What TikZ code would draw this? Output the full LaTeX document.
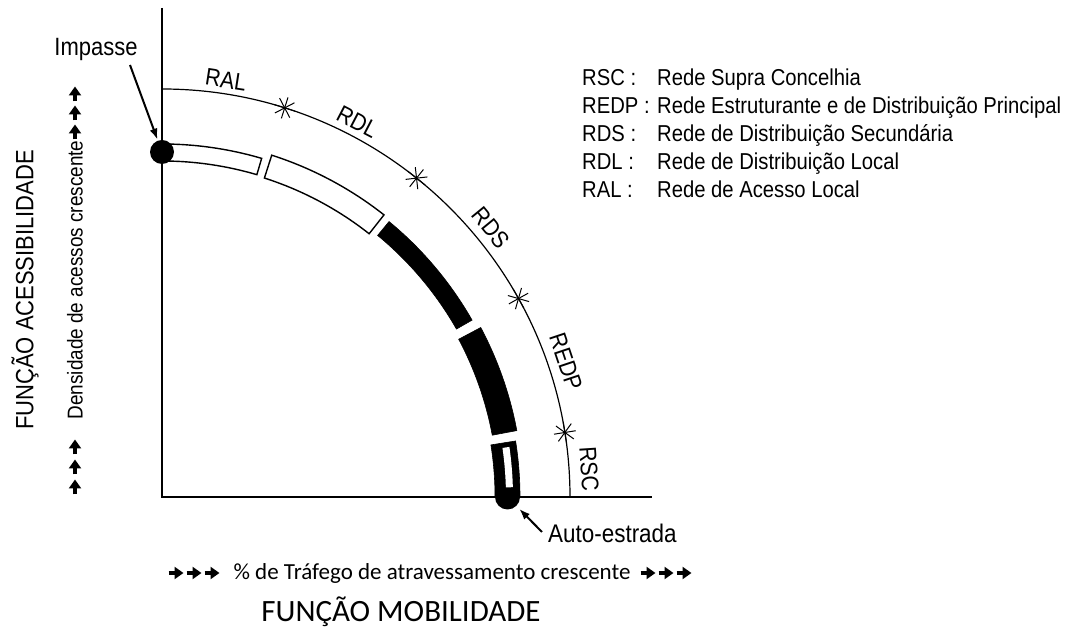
\documentclass[tikz,border=0pt]{standalone}
\usepackage{fontspec}
\setmainfont{Liberation Sans}[FakeStretch=0.88]
\newfontfamily\calib{Carlito}
\usetikzlibrary{arrows.meta,calc}
\newcommand\annsec[5]{\draw[#1] (#2:#5) arc[start angle=#2,end angle=#3,radius=#5] -- (#3:#4) arc[start angle=#3,end angle=#2,radius=#4] -- cycle;}
\newcommand\arcstar[1]{\foreach \k in {0,45,90,135}{\draw[starline] ($(#1:408)+(\k+#1:11)$) -- ($(#1:408)+(\k+#1+180:11)$);}}
\begin{document}
\begin{tikzpicture}[x=1pt,y=1pt,
  axis/.style={line width=1.8pt},
  outerarc/.style={line width=1.2pt},
  whiteseg/.style={draw=black,fill=white,line width=1.4pt},
  blackseg/.style={draw=black,fill=black,line width=0.6pt},
  starline/.style={line width=1pt},
  arclbl/.style={inner sep=0pt,font=\fontsize{24}{28}\selectfont},
  legl/.style={inner sep=0pt,anchor=base west,font=\fontsize{23}{27}\selectfont},
  callout/.style={inner sep=0pt,font=\fontsize{25}{29}\selectfont},
  pointer/.style={line width=2pt,-{Latex[length=11pt,width=8pt]}},
  glyph/.style={line width=3.2pt,-{Triangle[length=9pt,width=12pt]}}
]
\useasboundingbox (0,0) rectangle (1066,628);
\coordinate (O) at (162,131);
\coordinate (ytop) at (162,620);
\coordinate (xend) at (652,131);
\draw[axis] (ytop) -- (O) -- (xend);
\begin{scope}[shift={(162,131)}]
  \draw[outerarc] (90:408) arc[start angle=90,end angle=0,radius=408];
  \annsec{whiteseg}{90}{73.6}{336}{353}
  \annsec{whiteseg}{72.2}{51.8}{335}{359}
  \annsec{blackseg}{50.5}{29.7}{339}{357}
  \annsec{blackseg}{28}{10.6}{336}{361}
  \annsec{blackseg}{9}{0}{333}{358}
  \node[circle,fill=black,minimum size=25pt,inner sep=0pt] (autodot) at (0:345.5) {};
  \annsec{fill=white,draw=none}{8.2}{1.6}{344}{351}
  \node[circle,fill=black,minimum size=24pt,inner sep=0pt] (impdot) at (90:345) {};
  \arcstar{72.5}
  \arcstar{51.4}
  \arcstar{29.1}
  \arcstar{9.1}
  \node[arclbl,rotate=-8.7] (lRAL) at (81.3:422) {RAL};
  \node[arclbl,rotate=-27.5] (lRDL) at (62.5:423) {RDL};
  \node[arclbl,rotate=-50.7] (lRDS) at (39.3:425) {RDS};
  \node[arclbl,rotate=-71.5] (lREDP) at (18.5:426) {REDP};
  \node[arclbl,rotate=-86.25] (lRSC) at (3.75:428) {RSC};
\end{scope}
% legend
\foreach \ab/\tx [count=\i from 0] in {RSC :/Rede Supra Concelhia,REDP :/Rede Estruturante e de Distribuição Principal,RDS :/Rede de Distribuição Secundária,RDL :/Rede de Distribuição Local,RAL :/Rede de Acesso Local}{
  \node[legl] (lega\i) at (582,{542-28*\i}) {\ab};
  \node[legl] (legt\i) at (657,{542-28*\i}) {\tx};
}
% callouts
\node[callout] (impasse) at (96,578) {Impasse};
\coordinate (impA) at (130,563);
\draw[pointer,shorten >=1pt] (impA) -- (impdot);
\node[callout,anchor=base west,font=\fontsize{25.5}{30}\selectfont] (auto) at (548,85) {Auto-estrada};
\coordinate (autoA) at (542,96);
\draw[pointer,shorten >=4pt] (autoA) -- (autodot);
% axis titles
\node[inner sep=0pt,rotate=90,font=\fontsize{25}{30}\selectfont] (yfun) at (25,338) {FUNÇÃO ACESSIBILIDADE};
\node[inner sep=0pt,rotate=90,font=\fontsize{21.5}{25}\selectfont] (ydens) at (75,348) {Densidade de acessos crescente};
\foreach \c in {141,161,181,496,515,534}{
  \draw[glyph] (75,{\c-7.5}) -- (75,{\c+7.5});
}
\node[inner sep=0pt,font=\calib\fontsize{23}{27}\selectfont] (xtraf) at (432,55) {\% de Tráfego de atravessamento crescente};
\foreach \c in {176,194,212,648,666,684}{
  \draw[glyph] ({\c-7.5},55) -- ({\c+7.5},55);
}
\node[inner sep=0pt,font=\calib\fontsize{31}{36}\selectfont] (xfun) at (401,16) {FUNÇÃO MOBILIDADE};
\end{tikzpicture}
\end{document}
